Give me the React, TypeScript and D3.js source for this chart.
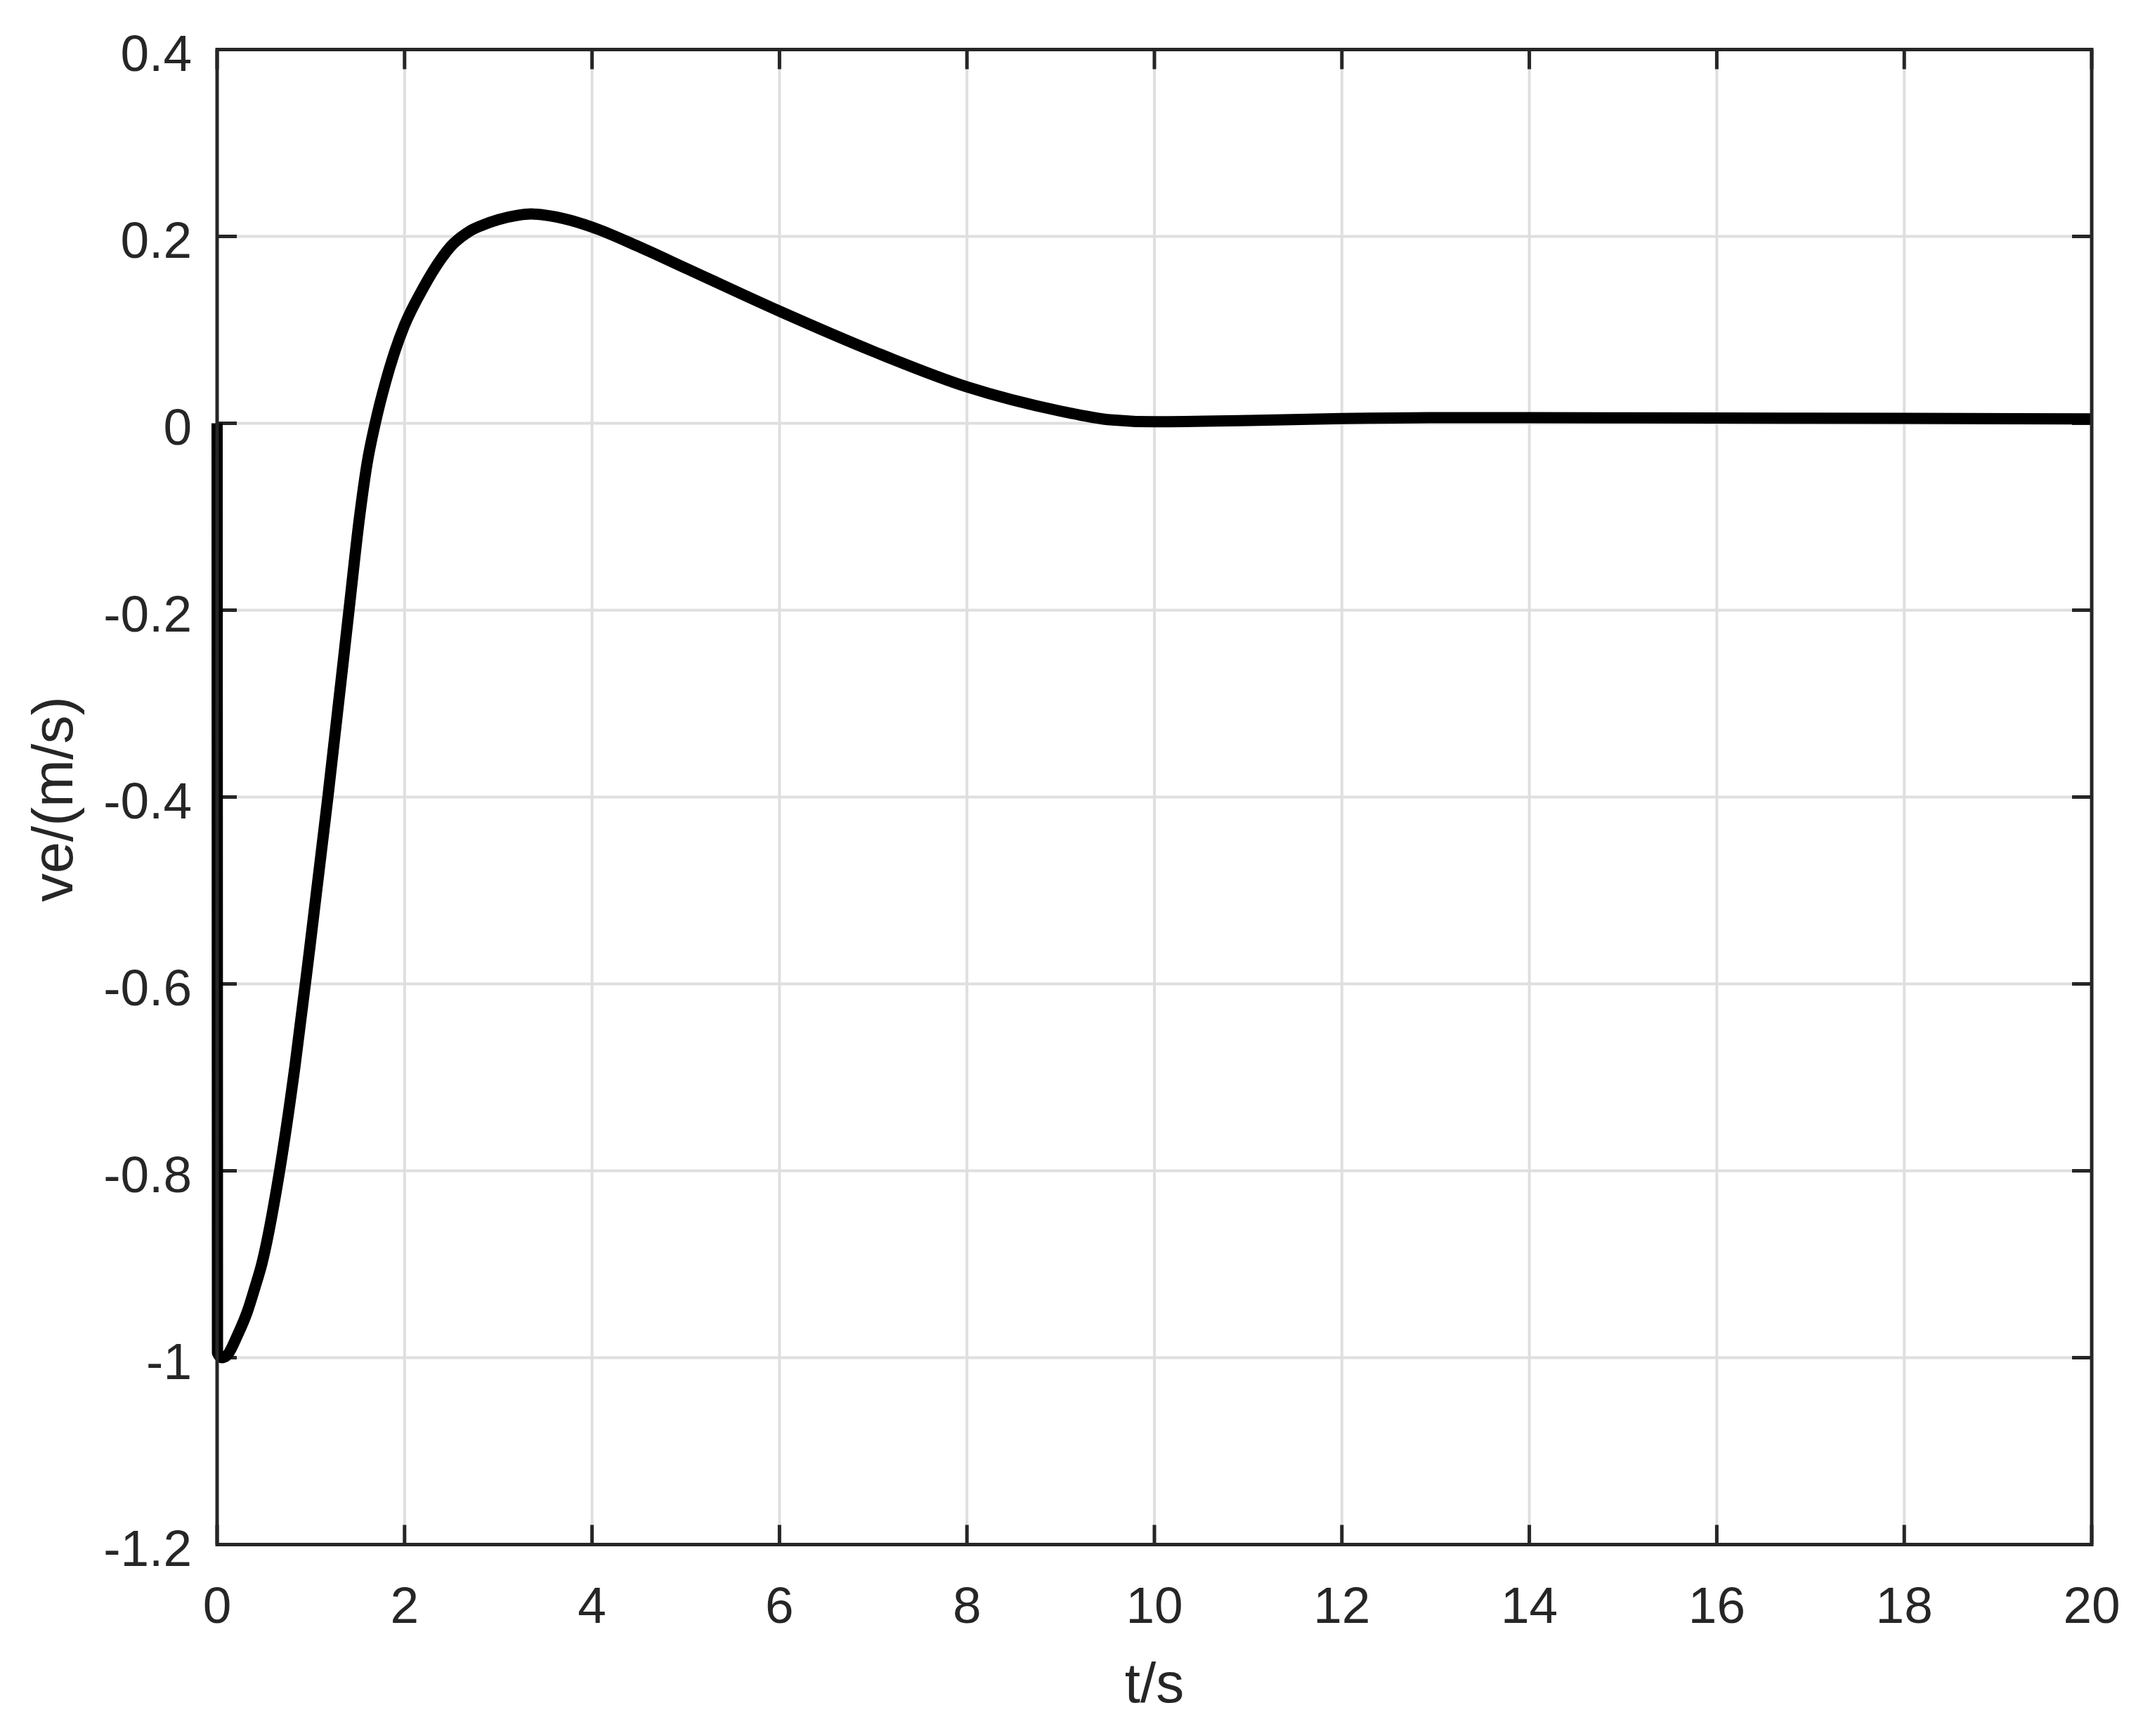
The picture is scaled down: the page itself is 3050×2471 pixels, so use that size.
import React from "react";
import * as d3 from "d3";

const W = 3050;
const H = 2471;

const tValues = [0, 0.004, 0.05, 0.1, 0.217, 0.325, 0.4, 0.476, 0.667, 0.832, 0.988, 1.182, 1.407, 1.52, 1.6, 1.687, 1.8, 1.9, 2.0, 2.2, 2.39, 2.5, 2.6, 2.7, 2.83, 3.0, 3.2, 3.35, 3.7, 4.0, 4.5, 5, 6, 7, 8, 9, 9.2, 9.5, 10, 11, 12, 13, 14, 16, 18, 20];
const veValues = [0, -0.995, -1.0, -0.998, -0.976, -0.95, -0.926, -0.9, -0.8, -0.687, -0.562, -0.4, -0.2, -0.1, -0.043, 0, 0.045, 0.078, 0.105, 0.145, 0.176, 0.19, 0.199, 0.206, 0.212, 0.218, 0.2225, 0.224, 0.219, 0.21, 0.189, 0.166, 0.12, 0.077, 0.039, 0.013, 0.009, 0.004, 0.0017, 0.003, 0.005, 0.006, 0.006, 0.0056, 0.0053, 0.0047];

const xTicks = [0, 2, 4, 6, 8, 10, 12, 14, 16, 18, 20];
const yTicks = [-1.2, -1, -0.8, -0.6, -0.4, -0.2, 0, 0.2, 0.4];

const xLabel = "t/s";
const yLabel = "ve/(m/s)";

const left = 309;
const right = 2977;
const top = 70.5;
const bottom = 2198.5;

const textColor = "#262626";
const gridColor = "#dfdfdf";
const font = "'Liberation Sans', Arial, Helvetica, sans-serif";

export default function App() {
  const x = d3.scaleLinear().domain([0, 20]).range([left, right]);
  const y = d3.scaleLinear().domain([-1.2, 0.4]).range([bottom, top]);
  const data = tValues.map((t, i) => [t, veValues[i]] as [number, number]);
  const line = d3
    .line<[number, number]>()
    .x((d) => x(d[0]))
    .y((d) => y(d[1]))
    .curve(d3.curveMonotoneX);
  const tickLen = 28;
  const fmt = (v: number) => String(Math.round(v * 10) / 10);
  return (
    <svg
      width={W}
      height={H}
      style={{ position: "absolute", left: 0, top: 0, background: "#fff" }}
      xmlns="http://www.w3.org/2000/svg"
    >
      <rect x={0} y={0} width={W} height={H} fill="#fff" />
      {xTicks.slice(1, -1).map((t) => (
        <line key={"gx" + t} x1={x(t)} x2={x(t)} y1={top} y2={bottom} stroke={gridColor} strokeWidth={4} />
      ))}
      {yTicks.slice(1, -1).map((v) => (
        <line key={"gy" + v} x1={left} x2={right} y1={y(v)} y2={y(v)} stroke={gridColor} strokeWidth={4} />
      ))}
      {xTicks.map((t) => (
        <g key={"tx" + t}>
          <line x1={x(t)} x2={x(t)} y1={bottom} y2={bottom - tickLen} stroke={textColor} strokeWidth={5} />
          <line x1={x(t)} x2={x(t)} y1={top} y2={top + tickLen} stroke={textColor} strokeWidth={5} />
        </g>
      ))}
      {yTicks.map((v) => (
        <g key={"ty" + v}>
          <line x1={left} x2={left + tickLen} y1={y(v)} y2={y(v)} stroke={textColor} strokeWidth={5} />
          <line x1={right} x2={right - tickLen} y1={y(v)} y2={y(v)} stroke={textColor} strokeWidth={5} />
        </g>
      ))}
      <path d={line(data) || ""} fill="none" stroke="#000" strokeWidth={16} strokeLinejoin="round" strokeLinecap="butt" />
      <rect x={left} y={top} width={right - left} height={bottom - top} fill="none" stroke={textColor} strokeWidth={5} />
      {xTicks.map((t) => (
        <text key={"lx" + t} x={x(t)} y={2310} textAnchor="middle" fontFamily={font} fontSize={73} fill={textColor}>
          {fmt(t)}
        </text>
      ))}
      {yTicks.map((v) => (
        <text key={"ly" + v} x={273} y={y(v) + 30.5} textAnchor="end" fontFamily={font} fontSize={73} fill={textColor}>
          {fmt(v)}
        </text>
      ))}
      <text x={(left + right) / 2} y={2423} textAnchor="middle" fontFamily={font} fontSize={80} fill={textColor}>
        {xLabel}
      </text>
      <text
        transform={`translate(103, ${(top + bottom) / 2 + 3}) rotate(-90)`}
        textAnchor="middle"
        fontFamily={font}
        fontSize={81}
        fill={textColor}
      >
        {yLabel}
      </text>
    </svg>
  );
}
